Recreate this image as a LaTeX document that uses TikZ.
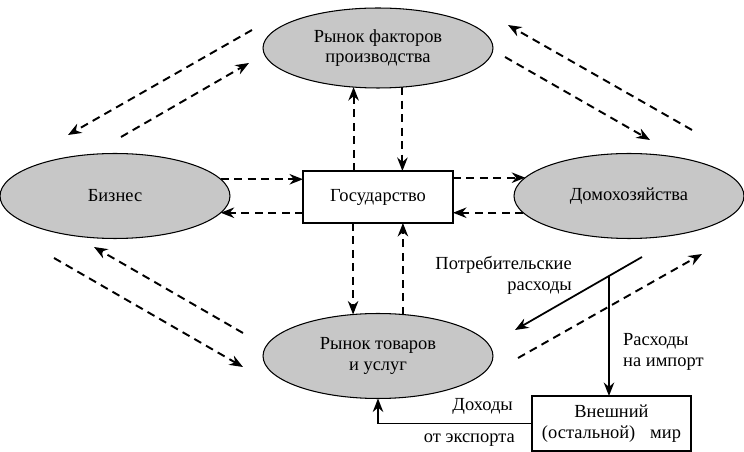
\documentclass[tikz,border=0pt]{standalone}
\usepackage{fontspec}
\setmainfont{Liberation Serif}
\usetikzlibrary{shapes.geometric,arrows.meta,calc}

\begin{document}
\begin{tikzpicture}[x=0.02cm,y=-0.02cm,
    font=\fontsize{10.5}{11.8}\selectfont,
    market/.style={ellipse,draw,line width=0.6pt,fill=black!22,inner sep=0pt,outer sep=0pt,
      minimum width=4.6cm,minimum height=1.7cm,align=center},
    agent/.style={rectangle,draw,line width=1pt,fill=white,inner sep=0pt,outer sep=0pt,align=center},
    dflow/.style={line width=1.1pt,dash pattern=on 1.6mm off 1.1mm,-{Stealth[length=2.7mm,width=2.1mm]}},
    sflow/.style={line width=1pt,-{Stealth[length=2.7mm,width=2.1mm]}}]
  \useasboundingbox (0,0) rectangle (744,452);
  % markets and agents
  \node[market,minimum height=1.6cm] (fp) at (378,48) {Рынок факторов\\производства};
  \node[market] (fm) at (378,356) {Рынок товаров\\и услуг};
  \node[market] (biz) at (115,196) {Бизнес};
  \node[market] (dom) at (629,196) {Домохозяйства};
  \node[agent,minimum width=3cm,minimum height=1.04cm] (gov) at (378,197) {Государство};
  \node[agent,minimum width=3.18cm,minimum height=1.1cm] (row) at (611.5,423.5) {Внешний\\(остальной)\;\; мир};
  % government flows
  \draw[dflow] (biz.9.5) -- (biz.9.5 -| gov.west);
  \draw[dflow] (gov.west |- biz.-9.5) -- (biz.-9.5);
  \draw[dflow] (gov.east |- dom.170.5) -- (dom.170.5);
  \draw[dflow] (dom.189.5) -- (dom.189.5 -| gov.east);
  \draw[dflow] (gov.north -| fp.238) -- (fp.238);
  \draw[dflow] (fp.302) -- (gov.north -| fp.302);
  \draw[dflow] (gov.south -| fm.121) -- (fm.121);
  \draw[dflow] (fm.59) -- (gov.south -| fm.59);
  % diagonal flows
  \coordinate (a1) at (252,30);  \coordinate (a2) at (68,135);
  \coordinate (a3) at (121,137); \coordinate (a4) at (249,63);
  \coordinate (b1) at (692,130); \coordinate (b2) at (508,25);
  \coordinate (b3) at (505,57);  \coordinate (b4) at (650,140);
  \coordinate (c1) at (243,333); \coordinate (c2) at (94,247);
  \coordinate (c3) at (54,258);  \coordinate (c4) at (243,367);
  \coordinate (d1) at (518,358); \coordinate (d2) at (702,254);
  \draw[dflow] (a1) -- (a2);
  \draw[dflow] (a3) -- (a4);
  \draw[dflow] (b1) -- (b2);
  \draw[dflow] (b3) -- (b4);
  \draw[dflow] (c1) -- (c2);
  \draw[dflow] (c3) -- (c4);
  \draw[dflow] (d1) -- (d2);
  % consumption and foreign trade
  \coordinate (cs) at (642,257); \coordinate (ce) at (515,330);
  \draw[sflow] (cs) -- (ce);
  \coordinate (imp) at ($(cs)!0.26!(ce)$);
  \draw[sflow] (imp) -- (imp |- row.north);
  \draw[sflow] (row.west) -| (fm.south);
  \node[anchor=east,align=right] (lcons) at (578,275) {Потребительские\\расходы};
  \node[anchor=west,align=left] (limp) at (617,352) {Расходы\\на импорт};
  \node[anchor=south east] (lexp1) at (519,421) {Доходы};
  \node[anchor=north east] (lexp2) at (521,428) {от экспорта};
\end{tikzpicture}
\end{document}
